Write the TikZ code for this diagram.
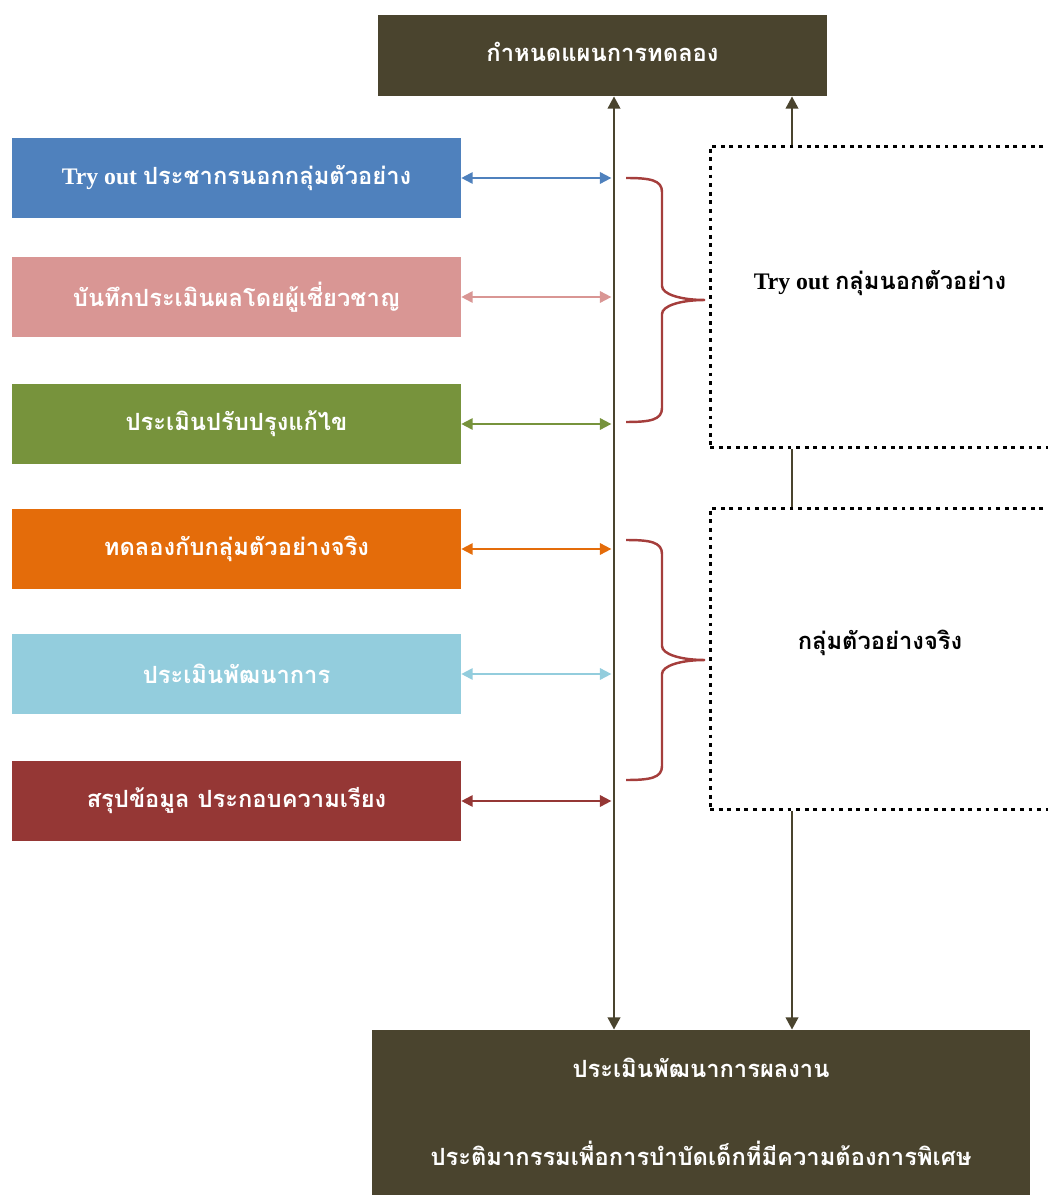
\documentclass[tikz,border=0pt]{standalone}
\usepackage{fontspec}
\setmainfont{Liberation Serif}
\newfontfamily\thaifont[Script=Thai]{Loma}
\usetikzlibrary{arrows.meta}

\definecolor{planolive}{RGB}{74,68,46}
\definecolor{stepblue}{RGB}{79,129,189}
\definecolor{steppink}{RGB}{217,150,148}
\definecolor{stepgreen}{RGB}{119,147,60}
\definecolor{steporange}{RGB}{228,108,10}
\definecolor{stepsky}{RGB}{147,205,221}
\definecolor{stepred}{RGB}{149,55,53}
\definecolor{bracered}{RGB}{165,62,60}

\begin{document}
\begin{tikzpicture}[
    x=0.02cm, y=-0.02cm,
    stepbox/.style={rectangle,minimum width=8.98cm,minimum height=1.6cm,inner sep=0pt,
        text=white,font=\bfseries\fontsize{13.5}{16}\selectfont},
    darkbox/.style={rectangle,fill=planolive,inner sep=0pt},
    groupbox/.style={rectangle,draw=black,line width=1.7pt,dash pattern=on 2.2pt off 2.7pt,
        minimum width=7.2cm,minimum height=6.04cm,inner sep=0pt},
    whitetext/.style={text=white,font=\bfseries\fontsize{13.5}{16}\selectfont},
    blacktext/.style={text=black,font=\bfseries\fontsize{13.5}{16}\selectfont},
    link/.style={line width=1.1pt,{Triangle[length=6.5pt,width=6.5pt]}-{Triangle[length=6.5pt,width=6.5pt]},
        shorten >=1.5pt},
    spine/.style={draw=planolive,line width=1.6pt},
    groupbrace/.style={draw=bracered,line width=1.4pt},
    >={Triangle[length=7pt,width=7pt]}
]
    \useasboundingbox (0,0) rectangle (1047,1195);

    % Top and bottom boxes
    \node[darkbox,minimum width=8.98cm,minimum height=1.62cm] (plan) at (602.5,55.5) {};
    \node[whitetext] (plantext) at (602.5,52) {\thaifont กำหนดแผนการทดลอง};
    \node[darkbox,minimum width=13.16cm,minimum height=3.7cm] (eval) at (701,1122.5) {};
    \node[whitetext] (evaltop) at (701,1068) {\thaifont ประเมินพัฒนาการผลงาน};
    \node[whitetext] (evalbot) at (701,1153) {\thaifont ประติมากรรมเพื่อการบำบัดเด็กที่มีความต้องการพิเศษ};

    % Steps on the left
    \node[stepbox,fill=stepblue] (b1) at (236.5,178) {Try out {\thaifont ประชากรนอกกลุ่มตัวอย่าง}};
    \node[stepbox,fill=steppink] (b2) at (236.5,297) {\thaifont บันทึกประเมินผลโดยผู้เชี่ยวชาญ};
    \node[stepbox,fill=stepgreen] (b3) at (236.5,424) {\thaifont ประเมินปรับปรุงแก้ไข};
    \node[stepbox,fill=steporange] (b4) at (236.5,549) {\thaifont ทดลองกับกลุ่มตัวอย่างจริง};
    \node[stepbox,fill=stepsky] (b5) at (236.5,674) {\thaifont ประเมินพัฒนาการ};
    \node[stepbox,fill=stepred] (b6) at (236.5,801) {\thaifont สรุปข้อมูล ประกอบความเรียง};

    % Groups on the right
    \node[groupbox] (tryout) at (890,297) {};
    \node[blacktext] (tryouttext) at (880,283) {Try out {\thaifont กลุ่มนอกตัวอย่าง}};
    \node[groupbox] (real) at (890,659) {};
    \node[blacktext] (realtext) at (880,643) {\thaifont กลุ่มตัวอย่างจริง};

    \coordinate (spine) at (614,0);
    \coordinate (side) at (792,0);
    \coordinate (bracex) at (626,0);

    % Main line
    \draw[spine,<->] (spine |- plan.south) -- (spine |- eval.north);

    % Links from steps to main line
    \draw[link,stepblue] (b1.east) -- (b1.east -| spine);
    \draw[link,steppink] (b2.east) -- (b2.east -| spine);
    \draw[link,stepgreen] (b3.east) -- (b3.east -| spine);
    \draw[link,steporange] (b4.east) -- (b4.east -| spine);
    \draw[link,stepsky] (b5.east) -- (b5.east -| spine);
    \draw[link,stepred] (b6.east) -- (b6.east -| spine);

    % Braces
    \draw[groupbrace] (bracex |- b1.east) .. controls +(24,0) and +(0,-12) .. ++(36,14) -- ++(0,94)
        .. controls +(0,8) and +(-25,0) .. ++(43,14) .. controls +(-25,0) and +(0,-8) .. ++(-43,14)
        -- ++(0,94) .. controls +(0,12) and +(24,0) .. ++(-36,14);
    \draw[groupbrace] (bracex |- b4.east) ++(0,-9) .. controls +(24,0) and +(0,-12) .. ++(36,14) -- ++(0,92)
        .. controls +(0,8) and +(-25,0) .. ++(43,14) .. controls +(-25,0) and +(0,-8) .. ++(-43,14)
        -- ++(0,92) .. controls +(0,12) and +(24,0) .. ++(-36,14);

    % Right side connections
    \draw[spine,->] (side |- tryout.north) -- (side |- plan.south);
    \draw[spine] (side |- tryout.south) -- (side |- real.north);
    \draw[spine,->] (side |- real.south) -- (side |- eval.north);
\end{tikzpicture}
\end{document}
